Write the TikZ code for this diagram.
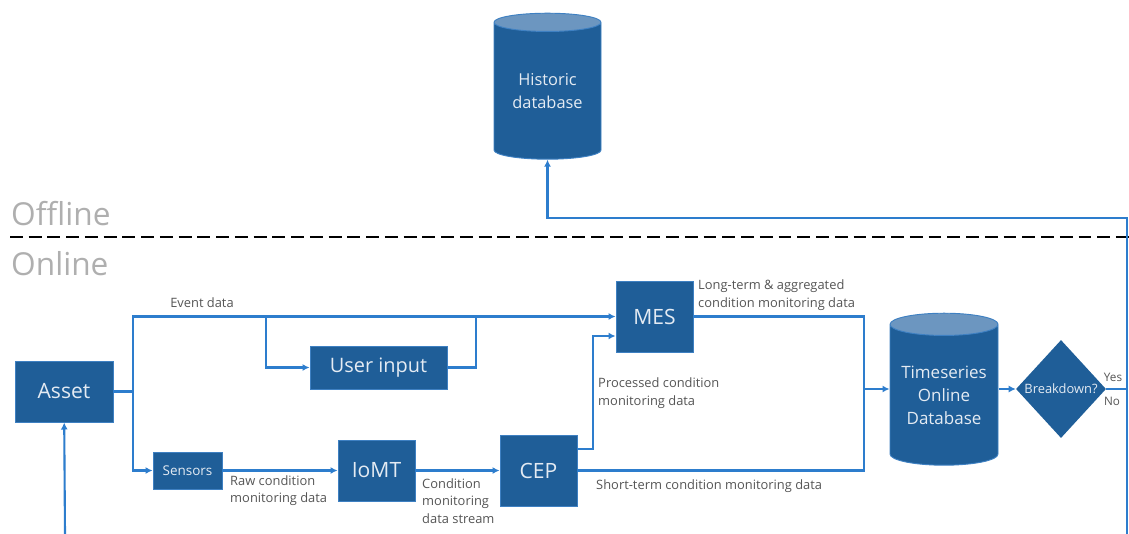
\documentclass[tikz,border=0pt]{standalone}
\usepackage{fontspec}
\setmainfont{Open Sans}
\usetikzlibrary{arrows.meta, shapes.geometric}

\definecolor{boxblue}{RGB}{31,94,152}
\definecolor{edgeblue}{RGB}{62,128,194}
\definecolor{lineblue}{RGB}{45,125,205}
\definecolor{capblue}{RGB}{108,150,192}
\definecolor{boxtext}{RGB}{228,235,243}
\definecolor{labelgray}{RGB}{85,85,85}
\definecolor{zonegray}{RGB}{175,175,175}

\tikzset{
  block/.style={rectangle, draw=edgeblue, line width=0.8pt, fill=boxblue, text=boxtext, inner sep=0pt, align=center, font=\fontsize{18}{21}\selectfont},
  store/.style={cylinder, shape border rotate=90, aspect=0.26, draw=edgeblue, line width=0.8pt, cylinder uses custom fill, cylinder body fill=boxblue, cylinder end fill=capblue, text=boxtext, inner sep=0pt, align=center},
  decision/.style={diamond, fill=boxblue, text=boxtext, inner sep=0pt, font=\fontsize{11}{13}\selectfont},
  wire/.style={draw=lineblue, line width=1.8pt},
  flow/.style={wire, -{Latex[length=6pt,width=6pt]}},
  lbl/.style={text=labelgray, font=\fontsize{11}{14.9}\selectfont, align=left, inner sep=0pt},
  zone/.style={text=zonegray, font=\fontsize{27}{30}\selectfont, inner sep=0pt, anchor=west},
}

\begin{document}
\begin{tikzpicture}[x=0.03cm, y=-0.03cm]
  \useasboundingbox (0,0) rectangle (1129,533);

  \node[store, minimum width=3.21cm, minimum height=4.38cm, font=\fontsize{14}{19.6}\selectfont] (hist) at (547.5,91) {Historic\\database};

  \node[zone] (offline) at (11,214) {Offline};
  \node[zone] (online) at (11,264) {Online};
  \draw[black, line width=2.4pt, dash pattern=on 11pt off 5pt] (10,237) -- (1129,237);

  \node[block, minimum width=2.94cm, minimum height=1.83cm] (asset) at (64,391.5) {Asset};
  \node[block, minimum width=4.11cm, minimum height=1.29cm, font=\fontsize{17}{20}\selectfont] (user) at (378.5,367.5) {User input};
  \node[block, minimum width=2.31cm, minimum height=2.13cm] (mes) at (654.5,316.5) {MES};
  \node[block, minimum width=2.07cm, minimum height=1.11cm, font=\fontsize{11.5}{14}\selectfont] (sensors) at (187.5,470.5) {Sensors};
  \node[block, minimum width=2.31cm, minimum height=1.83cm] (iomt) at (376.5,470.5) {IoMT};
  \node[block, minimum width=2.31cm, minimum height=2.13cm] (cep) at (538.5,470.5) {CEP};
  \node[store, minimum width=3.24cm, minimum height=4.56cm, font=\fontsize{14.5}{19.6}\selectfont] (tsdb) at (944,395) {Timeseries\\Online\\Database};
  \node[decision, minimum width=2.7cm, minimum height=2.94cm] (brk) at (1061,389) {Breakdown?};

  \coordinate (split) at (133,391.5);
  \coordinate (ev1) at (266,316.5);
  \coordinate (ev2) at (476,316.5);
  \coordinate (proc) at (593,336);
  \coordinate (merge) at (864,389);
  \coordinate (yesno) at (1127,389);
  \coordinate (ret) at (547.5,218);
  \coordinate (nobr) at (1127,534);
  \coordinate (feed) at (65,534);

  \draw[wire] (asset) -- (split);
  \draw[flow] (split) |- (mes);
  \draw[flow] (split) |- (sensors);
  \draw[flow] (ev1) |- (user);
  \draw[wire] (user) -| (ev2);
  \draw[flow] (sensors) -- (iomt);
  \draw[flow] (iomt) -- (cep);
  \draw[flow] (cep.east |- 0,449) -| (proc) -- (proc -| mes.west);
  \draw[wire] (mes) -| (merge);
  \draw[wire] (cep) -| (merge);
  \draw[flow] (merge) -- (tsdb.west |- merge);
  \draw[flow] (tsdb.east |- brk) -- (brk);
  \draw[wire] (brk) -- (yesno);
  \draw[flow] (yesno) |- (ret) -- (hist.south);
  \draw[wire] (yesno) -- (nobr);
  \draw[flow] (feed) -- (asset);

  \node[lbl] (evlbl) at (202,303) {Event data};
  \node[lbl, anchor=west] (ltlbl) at (698,295) {Long-term \& aggregated\\condition monitoring data};
  \node[lbl, anchor=west] (prlbl) at (598,393) {Processed condition\\monitoring data};
  \node[lbl, anchor=west] (rawlbl) at (230,490.5) {Raw condition\\monitoring data};
  \node[lbl, anchor=west] (cmlbl) at (422,501) {Condition\\monitoring\\data stream};
  \node[lbl, anchor=west] (stlbl) at (596,486) {Short-term condition monitoring data};
  \node[lbl, font=\fontsize{10}{12}\selectfont] (yes) at (1113,377) {Yes};
  \node[lbl, font=\fontsize{10}{12}\selectfont] (no) at (1112,401) {No};
\end{tikzpicture}
\end{document}
